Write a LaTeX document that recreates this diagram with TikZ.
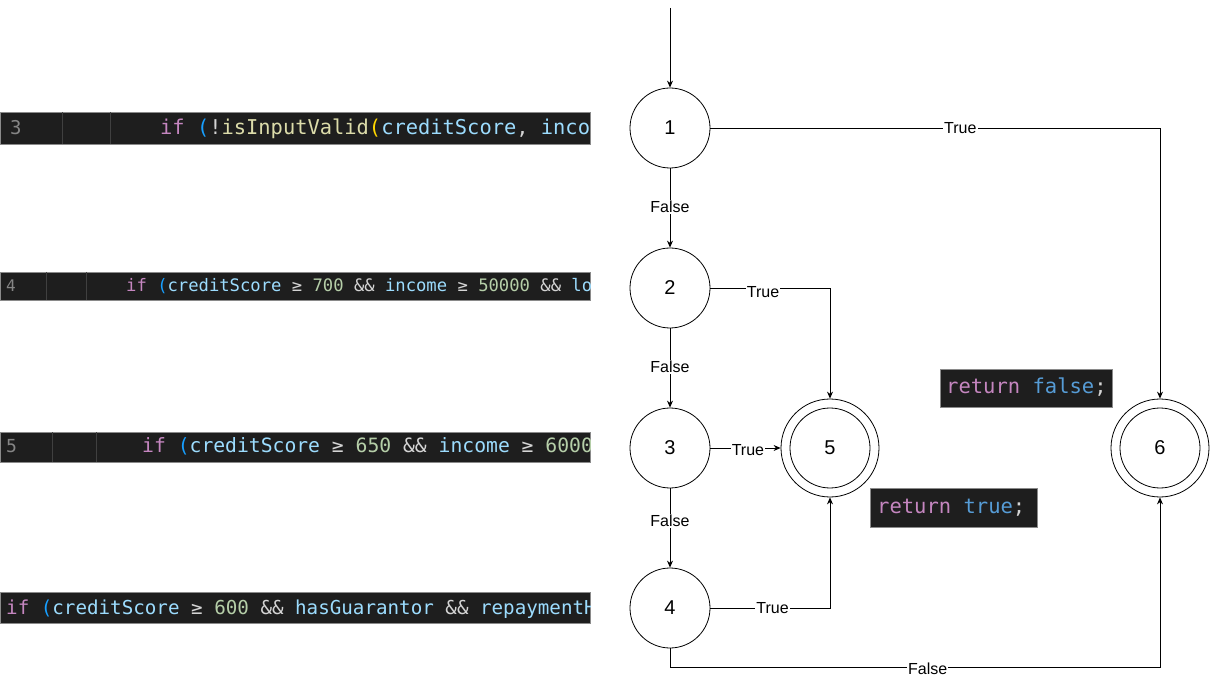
\documentclass[tikz,border=0pt]{standalone}
\usepackage{fontspec}
\setmainfont{Liberation Sans}
\newfontfamily\codefont{DejaVu Sans Mono}
\usetikzlibrary{arrows.meta}
\definecolor{codebg}{HTML}{1E1E1E}
\definecolor{codeborder}{HTML}{8A8A8A}
\definecolor{kw}{HTML}{C586C0}
\definecolor{paren}{HTML}{179FFF}
\definecolor{ident}{HTML}{9CDCFE}
\definecolor{num}{HTML}{B5CEA8}
\definecolor{op}{HTML}{D4D4D4}
\definecolor{fn}{HTML}{DCDCAA}
\definecolor{gold}{HTML}{FFD700}
\definecolor{bool}{HTML}{569CD6}
\definecolor{lineno}{HTML}{858585}
\definecolor{guide}{HTML}{404040}
\begin{document}
\begin{tikzpicture}[x=1pt,y=-1pt,
  state/.style={circle,draw,line width=0.8pt,minimum size=80pt,inner sep=0pt,font=\fontsize{20}{22}\selectfont},
  final/.style={circle,draw,line width=0.8pt,minimum size=98pt,inner sep=0pt},
  inner/.style={circle,draw,line width=0.8pt,minimum size=80pt,inner sep=0pt,font=\fontsize{20}{22}\selectfont},
  edge/.style={line width=0.8pt,-{Stealth[length=7pt,width=6pt]}},
  lbl/.style={fill=white,inner sep=1pt,font=\fontsize{16}{18}\selectfont},
  codebox/.style={fill=codebg,draw=codeborder,line width=0.8pt},
  code/.style={anchor=base west,inner sep=0pt}
]
\useasboundingbox (0,0) rectangle (1211,676);

% ---- code snippets ----
\draw[codebox] (0,112) rectangle (590,144);
\begin{scope}
\clip (0,112) rectangle (590,144);
\node[code,text=lineno,font=\codefont\fontsize{19}{20}\selectfont] (l3) at (10,135) {3};
\draw[guide,line width=0.8pt] (62,112) -- (62,144) (110,112) -- (110,144);
\node[code,font=\codefont\fontsize{20.4}{22}\selectfont] (c1) at (160,135) {\textcolor{kw}{if} \textcolor{paren}{(}\textcolor{op}{!}\textcolor{fn}{isInputValid}\textcolor{gold}{(}\textcolor{ident}{creditScore}\textcolor{op}{,} \textcolor{ident}{inco}};
\end{scope}

\draw[codebox] (0,272) rectangle (590,300);
\begin{scope}
\clip (0,272) rectangle (590,300);
\node[code,text=lineno,font=\codefont\fontsize{16}{18}\selectfont] (l4) at (6,292) {4};
\draw[guide,line width=0.8pt] (46,272) -- (46,300) (86,272) -- (86,300);
\node[code,font=\codefont\fontsize{17.2}{19}\selectfont] (c2) at (126,292) {\textcolor{kw}{if} \textcolor{paren}{(}\textcolor{ident}{creditScore} \textcolor{op}{≥} \textcolor{num}{700} \textcolor{op}{\&\&} \textcolor{ident}{income} \textcolor{op}{≥} \textcolor{num}{50000} \textcolor{op}{\&\&} \textcolor{ident}{lo}};
\end{scope}

\draw[codebox] (0,432) rectangle (590,462);
\begin{scope}
\clip (0,432) rectangle (590,462);
\node[code,text=lineno,font=\codefont\fontsize{18}{20}\selectfont] (l5) at (6,453) {5};
\draw[guide,line width=0.8pt] (52,432) -- (52,462) (96,432) -- (96,462);
\node[code,font=\codefont\fontsize{19.7}{21}\selectfont] (c3) at (142,453) {\textcolor{kw}{if} \textcolor{paren}{(}\textcolor{ident}{creditScore} \textcolor{op}{≥} \textcolor{num}{650} \textcolor{op}{\&\&} \textcolor{ident}{income} \textcolor{op}{≥} \textcolor{num}{6000}};
\end{scope}

\draw[codebox] (0,592) rectangle (590,623);
\begin{scope}
\clip (0,592) rectangle (590,623);
\node[code,font=\codefont\fontsize{19.2}{21}\selectfont] (c4) at (6,614) {\textcolor{kw}{if} \textcolor{paren}{(}\textcolor{ident}{creditScore} \textcolor{op}{≥} \textcolor{num}{600} \textcolor{op}{\&\&} \textcolor{ident}{hasGuarantor} \textcolor{op}{\&\&} \textcolor{ident}{repaymentH}};
\end{scope}

\draw[codebox] (940,369) rectangle (1112,407);
\node[code,font=\codefont\fontsize{20.5}{22}\selectfont] (rf) at (946,394) {\textcolor{kw}{return} \textcolor{bool}{false}\textcolor{op}{;}};

\draw[codebox] (870,488) rectangle (1037,527);
\node[code,font=\codefont\fontsize{20.5}{22}\selectfont] (rt) at (877,513) {\textcolor{kw}{return} \textcolor{bool}{true}\textcolor{op}{;}};

% ---- graph ----
\node[state] (n1) at (670,128) {1};
\node[state] (n2) at (670,288) {2};
\node[state] (n3) at (670,448) {3};
\node[state] (n4) at (670,608) {4};
\node[final] (n5) at (830,448) {};
\node[inner] (n5i) at (830,448) {5};
\node[final] (n6) at (1160,448) {};
\node[inner] (n6i) at (1160,448) {6};
\coordinate (start) at (670,8);
\coordinate (bottom) at (670,667);

\draw[edge] (start) -- (n1);
\draw[edge] (n1) -- node[lbl,pos=0.49] {False} (n2);
\draw[edge] (n2) -- node[lbl,pos=0.49] {False} (n3);
\draw[edge] (n3) -- node[lbl,pos=0.41] {False} (n4);
\draw[edge] (n1.east) -| node[lbl,pos=0.278] {True} (n6.north);
\draw[edge] (n2.east) -| node[lbl,pos=0.22,yshift=-4pt] {True} (n5.north);
\draw[edge] (n3.east) -- node[lbl,pos=0.535,yshift=-2pt] {True} (n5.west);
\draw[edge] (n4.east) -| node[lbl,pos=0.26] {True} (n5.south);
\draw[edge] (n4.south) -- (bottom) -| node[lbl,pos=0.263,yshift=-2pt] {False} (n6.south);
\end{tikzpicture}
\end{document}
